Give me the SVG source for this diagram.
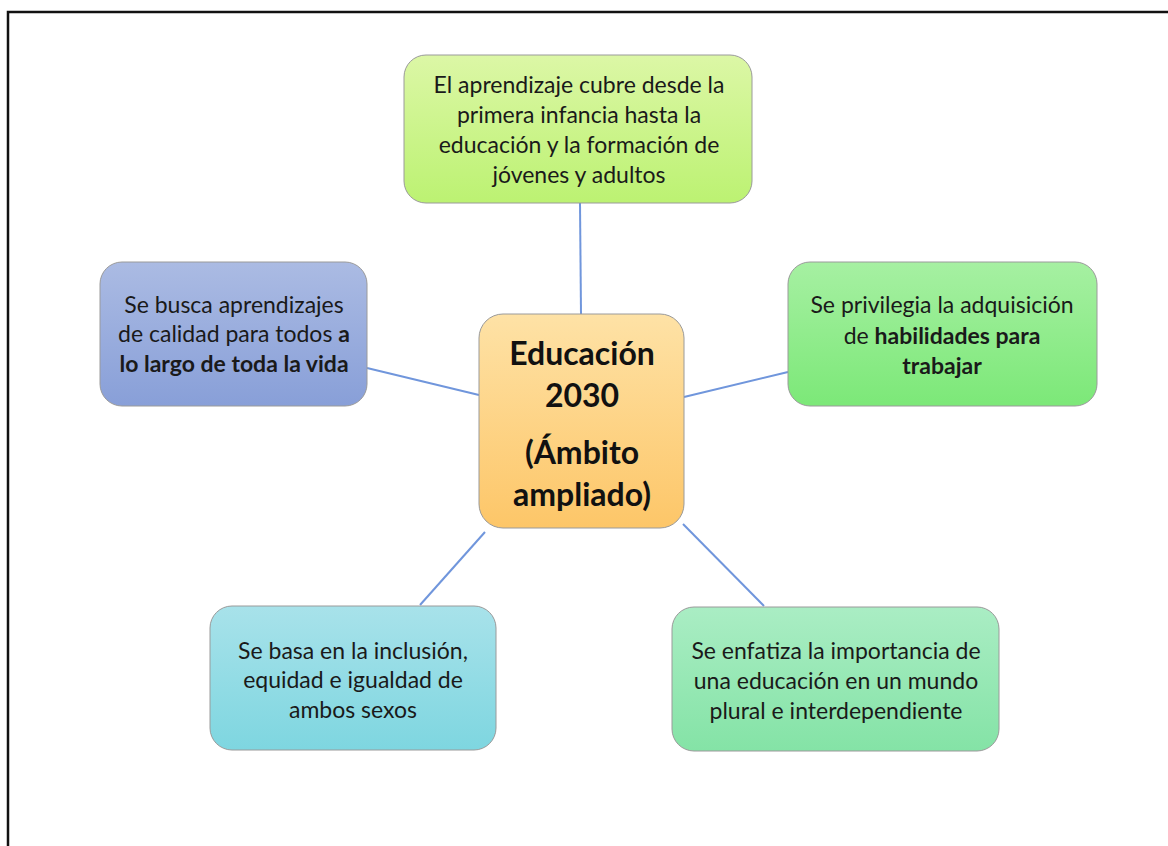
<svg xmlns="http://www.w3.org/2000/svg" width="1168" height="846" viewBox="0 0 1168 846">
<defs>
<linearGradient id="gTop" x1="0" y1="0" x2="0" y2="1"><stop offset="0" stop-color="#dcf7a6"/><stop offset="1" stop-color="#bcf272"/></linearGradient>
<linearGradient id="gBlue" x1="0" y1="0" x2="0" y2="1"><stop offset="0" stop-color="#abbbe3"/><stop offset="1" stop-color="#889fd8"/></linearGradient>
<linearGradient id="gGreen" x1="0" y1="0" x2="0" y2="1"><stop offset="0" stop-color="#a6f0a2"/><stop offset="1" stop-color="#7ce878"/></linearGradient>
<linearGradient id="gCenter" x1="0" y1="0" x2="0" y2="1"><stop offset="0" stop-color="#fee2a6"/><stop offset="1" stop-color="#fdc668"/></linearGradient>
<linearGradient id="gCyan" x1="0" y1="0" x2="0" y2="1"><stop offset="0" stop-color="#a8e2ea"/><stop offset="1" stop-color="#7ed6e0"/></linearGradient>
<linearGradient id="gMint" x1="0" y1="0" x2="0" y2="1"><stop offset="0" stop-color="#aaedc4"/><stop offset="1" stop-color="#84e3a6"/></linearGradient>
</defs>
<style>
.box{stroke:#9a9a9a;stroke-width:1}
.t{font-family:Lato,"Open Sans",sans-serif;font-size:23px;fill:#1a1a1a;text-anchor:middle}
.b{font-weight:bold}
.c{font-family:Lato,"Open Sans",sans-serif;font-size:32px;font-weight:bold;fill:#111;text-anchor:middle}
.conn line{stroke:#7096dc;stroke-width:2}
</style>
<rect width="1168" height="846" fill="#fff"/>
<path d="M8 846 V12 H1168" fill="none" stroke="#111" stroke-width="2.5"/>
<g class="conn" id="connectors">
<line x1="580" y1="203" x2="581" y2="314"/>
<line x1="367" y1="368" x2="479" y2="395"/>
<line x1="684" y1="397" x2="788" y2="372"/>
<line x1="485" y1="532" x2="420" y2="605"/>
<line x1="683" y1="524" x2="764" y2="606"/>
</g>
<g id="n-top">
<rect class="box" x="404" y="55" width="348" height="148" rx="22" fill="url(#gTop)"/>
<text class="t" x="579" y="93">El aprendizaje cubre desde la</text>
<text class="t" x="579" y="123">primera infancia hasta la</text>
<text class="t" x="579" y="153">educación y la formación de</text>
<text class="t" x="579" y="183">jóvenes y adultos</text>
</g>
<g id="n-left">
<rect class="box" x="100" y="262" width="267" height="144" rx="22" fill="url(#gBlue)"/>
<text class="t" x="234" y="313">Se busca aprendizajes</text>
<text class="t" x="234" y="342">de calidad para todos <tspan class="b">a</tspan></text>
<text class="t b" x="234" y="372">lo largo de toda la vida</text>
</g>
<g id="n-right">
<rect class="box" x="788" y="262" width="309" height="144" rx="22" fill="url(#gGreen)"/>
<text class="t" x="942" y="313">Se privilegia la adquisición</text>
<text class="t" x="942" y="344">de <tspan class="b">habilidades para</tspan></text>
<text class="t b" x="942" y="374">trabajar</text>
</g>
<g id="n-center">
<rect class="box" x="479" y="314" width="205" height="214" rx="24" fill="url(#gCenter)"/>
<text class="c" x="582" y="365">Educación</text>
<text class="c" x="582" y="407">2030</text>
<text class="c" x="582" y="464">(Ámbito</text>
<text class="c" x="582" y="506">ampliado)</text>
</g>
<g id="n-bl">
<rect class="box" x="210" y="606" width="286" height="144" rx="22" fill="url(#gCyan)"/>
<text class="t" x="353" y="659">Se basa en la inclusión,</text>
<text class="t" x="353" y="688">equidad e igualdad de</text>
<text class="t" x="353" y="718">ambos sexos</text>
</g>
<g id="n-br">
<rect class="box" x="672" y="607" width="327" height="144" rx="22" fill="url(#gMint)"/>
<text class="t" x="836" y="659">Se enfatiza la importancia de</text>
<text class="t" x="836" y="689">una educación en un mundo</text>
<text class="t" x="836" y="719">plural e interdependiente</text>
</g>
</svg>
